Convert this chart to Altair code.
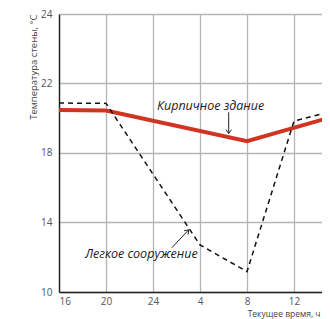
import altair as alt
import pandas as pd

# ---- data ----
hours_brick = [16, 20, 32, 40]
temp_brick = [20.45, 20.42, 18.66, 20.2]
hours_light = [16, 20, 28, 32, 36, 40]
temp_light = [20.85, 20.83, 12.7, 11.17, 19.82, 20.5]
x_ticks = [16, 20, 24, 28, 32, 36]
y_ticks = [10, 14, 18, 22, 24]

label_brick = "Кирпичное здание"
label_light = "Легкое сооружение"
y_title = "Температура стены, °С"
x_title = "Текущее время, ч"

# annotation anchors (data coords)
ann_text = [label_brick, label_light]
ann_x = [28.9, 23.0]
ann_y = [20.67, 12.19]
arrow_x1 = [30.44, 25.6]
arrow_y1 = [20.32, 12.54]
arrow_x2 = [30.44, 27.04]
arrow_y2 = [19.1, 13.57]
arrow_angle = [0, 223]

FONT = "Open Sans"

brick = pd.DataFrame({"h": hours_brick, "t": temp_brick})
light = pd.DataFrame({"h": hours_light, "t": temp_light})
ann = pd.DataFrame({"x": ann_x, "y": ann_y, "txt": ann_text})
arr = pd.DataFrame({"x": arrow_x1, "y": arrow_y1, "x2": arrow_x2, "y2": arrow_y2, "a": arrow_angle})

xs = alt.Scale(domain=[16, 38.38], nice=False, zero=False)
ys = alt.Scale(domain=[10, 22, 24], range=[278, 69, 0], zero=False, nice=False)

x_axis = alt.Axis(
    values=x_ticks,
    labelExpr="datum.value == 24 ? '24' : '' + (datum.value % 24)",
    title=x_title,
    titleAlign="right",
    titleX=261,
    titleY=21,
    titleBaseline="middle",
    titleFont=FONT,
    titleFontSize=8.5,
    titleFontWeight="normal",
    titleColor="#444",
    labelFont=FONT,
    labelFontSize=10,
    labelColor="#555",
    labelPadding=4,
    ticks=False,
    grid=True,
    gridColor="#b5b5b5",
    gridWidth=1.3,
    domainColor="#222",
    domainWidth=1.4,
)
y_axis = alt.Axis(
    values=y_ticks,
    title=y_title,
    titleAngle=-90,
    titleAlign="right",
    titleX=-26,
    titleY=0,
    titleBaseline="middle",
    titleFont=FONT,
    titleFontSize=9.5,
    titleFontWeight="normal",
    titleColor="#444",
    labelFont=FONT,
    labelFontSize=10,
    labelColor="#555",
    labelPadding=7,
    ticks=False,
    grid=True,
    gridColor="#b5b5b5",
    gridWidth=1.3,
    domainColor="#222",
    domainWidth=1.4,
)

red = alt.Chart(brick).mark_line(color="#cf3520", strokeWidth=4, clip=True).encode(
    x=alt.X("h:Q", scale=xs, axis=x_axis),
    y=alt.Y("t:Q", scale=ys, axis=y_axis),
)
dash = alt.Chart(light).mark_line(color="#111", strokeWidth=1.5, strokeDash=[5, 4], clip=True).encode(
    x=alt.X("h:Q", scale=xs),
    y=alt.Y("t:Q", scale=ys),
)
texts = alt.Chart(ann).mark_text(font=FONT, fontSize=12.5, fontStyle="italic", color="#222").encode(
    x=alt.X("x:Q", scale=xs),
    y=alt.Y("y:Q", scale=ys),
    text="txt:N",
)
arrow_lines = alt.Chart(arr).mark_rule(color="#222", strokeWidth=1).encode(
    x=alt.X("x:Q", scale=xs),
    y=alt.Y("y:Q", scale=ys),
    x2="x2:Q",
    y2="y2:Q",
)
arrow_heads = alt.Chart(arr).mark_point(
    shape="M -1 -1.4 L 0 0 L 1 -1.4", filled=False, color="#222", strokeWidth=1, size=30, opacity=1
).encode(
    x=alt.X("x2:Q", scale=xs),
    y=alt.Y("y2:Q", scale=ys),
    angle=alt.Angle("a:Q", scale=None),
)

chart = (
    alt.layer(red, dash, arrow_lines, arrow_heads, texts)
    .properties(
        width=263,
        height=278,
        autosize=alt.AutoSizeParams(type="none"),
        padding={"left": 51, "top": 6, "right": 0, "bottom": 27},
        background="white",
    )
    .configure_view(stroke=None)
)

chart.save("out.html", embed_options={"renderer": "svg", "actions": False})
